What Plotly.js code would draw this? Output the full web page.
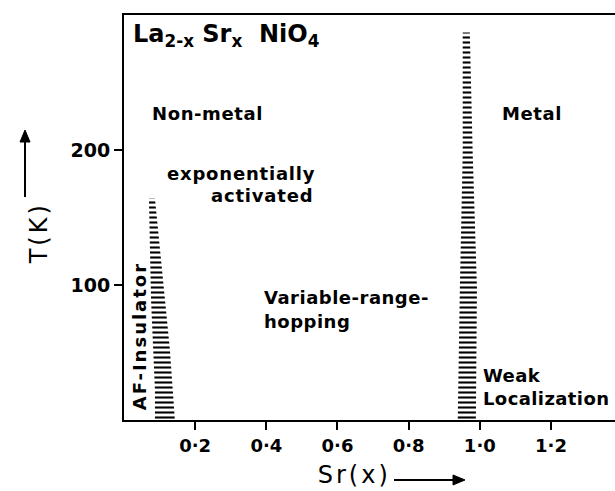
<!DOCTYPE html>
<html>
<head>
<meta charset="utf-8">
<script src="https://cdn.plot.ly/plotly-3.0.1.min.js"></script>
<style>html,body{margin:0;padding:0;background:#fff;}#chart{width:615px;height:491px;}</style>
</head>
<body>
<div id="chart"></div>
<script>
// Outline of the AF-insulator hatched boundary region (x = Sr content, T in K)
const afBoundaryX = [0.087, 0.143, 0.129, 0.107, 0.087, 0.070, 0.076, 0.087];
const afBoundaryT = [0, 0, 52, 111, 164, 164, 89, 22];
// Outline of the metal / non-metal hatched boundary region
const mnBoundaryX = [0.938, 0.989, 0.992, 0.980, 0.972, 0.952, 0.952, 0.944];
const mnBoundaryT = [0, 0, 98, 198, 287, 287, 198, 98];
// Axis ticks
const xTickVals = [0.2, 0.4, 0.6, 0.8, 1.0, 1.2];
const xTickText = ['0·2', '0·4', '0·6', '0·8', '1·0', '1·2'];
const yTickVals = [100, 200];
const yTickText = ['100', '200'];

const FONT = 'DejaVu Sans, sans-serif';
const ls = (t, px) => '<span style="letter-spacing:' + px + 'px">' + t + '</span>';

const hatch = {shape: '-', size: 5, solidity: 0.42, fgcolor: 'black', bgcolor: 'white'};

const traces = [
  {x: afBoundaryX, y: afBoundaryT, type: 'scatter', mode: 'none', fill: 'toself',
   fillcolor: 'white', fillpattern: hatch, hoverinfo: 'skip', showlegend: false},
  {x: mnBoundaryX, y: mnBoundaryT, type: 'scatter', mode: 'none', fill: 'toself',
   fillcolor: 'white', fillpattern: hatch, hoverinfo: 'skip', showlegend: false}
];

const txt = {family: FONT, size: 18, color: 'black', weight: 'bold'};
const ann = (text, x, y, xa, extra) => Object.assign({
  text: text, x: x, y: y, xref: 'x', yref: 'y', xanchor: xa, yanchor: 'middle',
  showarrow: false, font: txt, align: xa === 'right' ? 'right' : 'left'
}, extra || {});

const annotations = [
  ann('La<sub>2-x</sub> Sr<sub>x</sub>  NiO<sub>4</sub>', 0.02, 298, 'left',
      {yanchor: 'top', font: {family: FONT, size: 24, color: 'black', weight: 'bold'}}),
  ann(ls('Non-metal', 0.6), 0.073, 227, 'left'),
  ann(ls('Metal', 0.6), 1.056, 227, 'left'),
  ann(ls('exponentially', 0.8), 0.542, 182.5, 'right'),
  ann(ls('activated', 0.8), 0.536, 166, 'right'),
  ann(ls('Variable-range-', 0.5), 0.388, 91, 'left'),
  ann(ls('hopping', 0.5), 0.388, 73, 'left'),
  ann(ls('Weak', 0.4), 1.003, 33, 'left'),
  ann(ls('Localization', 0.4), 1.003, 15.6, 'left'),
  ann(ls('AF-Insulator', 2), 0.042, 62, 'center', {textangle: -90})
];

// Arrows next to the axis titles, drawn as paper-referenced paths
const arrowStyle = {xref: 'paper', yref: 'paper', line: {color: 'black', width: 2}};
const shapes = [
  Object.assign({type: 'path', path: 'M0.5499,-0.1481 L0.6782,-0.1481'}, arrowStyle),
  Object.assign({type: 'path', path: 'M0.6945,-0.1481 L0.6701,-0.1358 L0.6701,-0.1604 Z',
                 fillcolor: 'black'}, arrowStyle, {line: {color: 'black', width: 1}}),
  Object.assign({type: 'path', path: 'M-0.2016,0.5506 L-0.2016,0.6963'}, arrowStyle),
  Object.assign({type: 'path', path: 'M-0.2016,0.7160 L-0.2118,0.6864 L-0.1914,0.6864 Z',
                 fillcolor: 'black'}, arrowStyle, {line: {color: 'black', width: 1}})
];

const layout = {
  width: 615, height: 491,
  margin: {l: 124, r: 0, t: 15, b: 71},
  paper_bgcolor: 'white', plot_bgcolor: 'white',
  font: {family: FONT, color: 'black'},
  showlegend: false,
  xaxis: {
    range: [0, 1.38], showgrid: false, zeroline: false,
    showline: true, linewidth: 2, linecolor: 'black', mirror: true,
    ticks: 'outside', ticklen: 8, tickwidth: 2, tickcolor: 'black',
    tickvals: xTickVals, ticktext: xTickText,
    tickfont: {family: FONT, size: 18, color: 'black', weight: 'bold'},
    title: {text: ls('Sr(x)', 3) + '&nbsp;&nbsp;&nbsp;&nbsp;', font: {family: FONT, size: 24, color: 'black'}, standoff: 12},
    automargin: false, fixedrange: true
  },
  yaxis: {
    range: [0, 300], showgrid: false, zeroline: false,
    showline: true, linewidth: 2, linecolor: 'black', mirror: false,
    ticks: 'outside', ticklen: 8, tickwidth: 2, tickcolor: 'black',
    tickvals: yTickVals, ticktext: yTickText,
    tickfont: {family: FONT, size: 19, color: 'black', weight: 'bold'},
    title: {text: ls('T(K)', 3) + '&nbsp;&nbsp;&nbsp;&nbsp;', font: {family: FONT, size: 24, color: 'black'}, standoff: 16},
    automargin: false, fixedrange: true
  },
  annotations: annotations,
  shapes: shapes
};

Plotly.newPlot('chart', traces, layout, {staticPlot: true, displayModeBar: false});
</script>
</body>
</html>
